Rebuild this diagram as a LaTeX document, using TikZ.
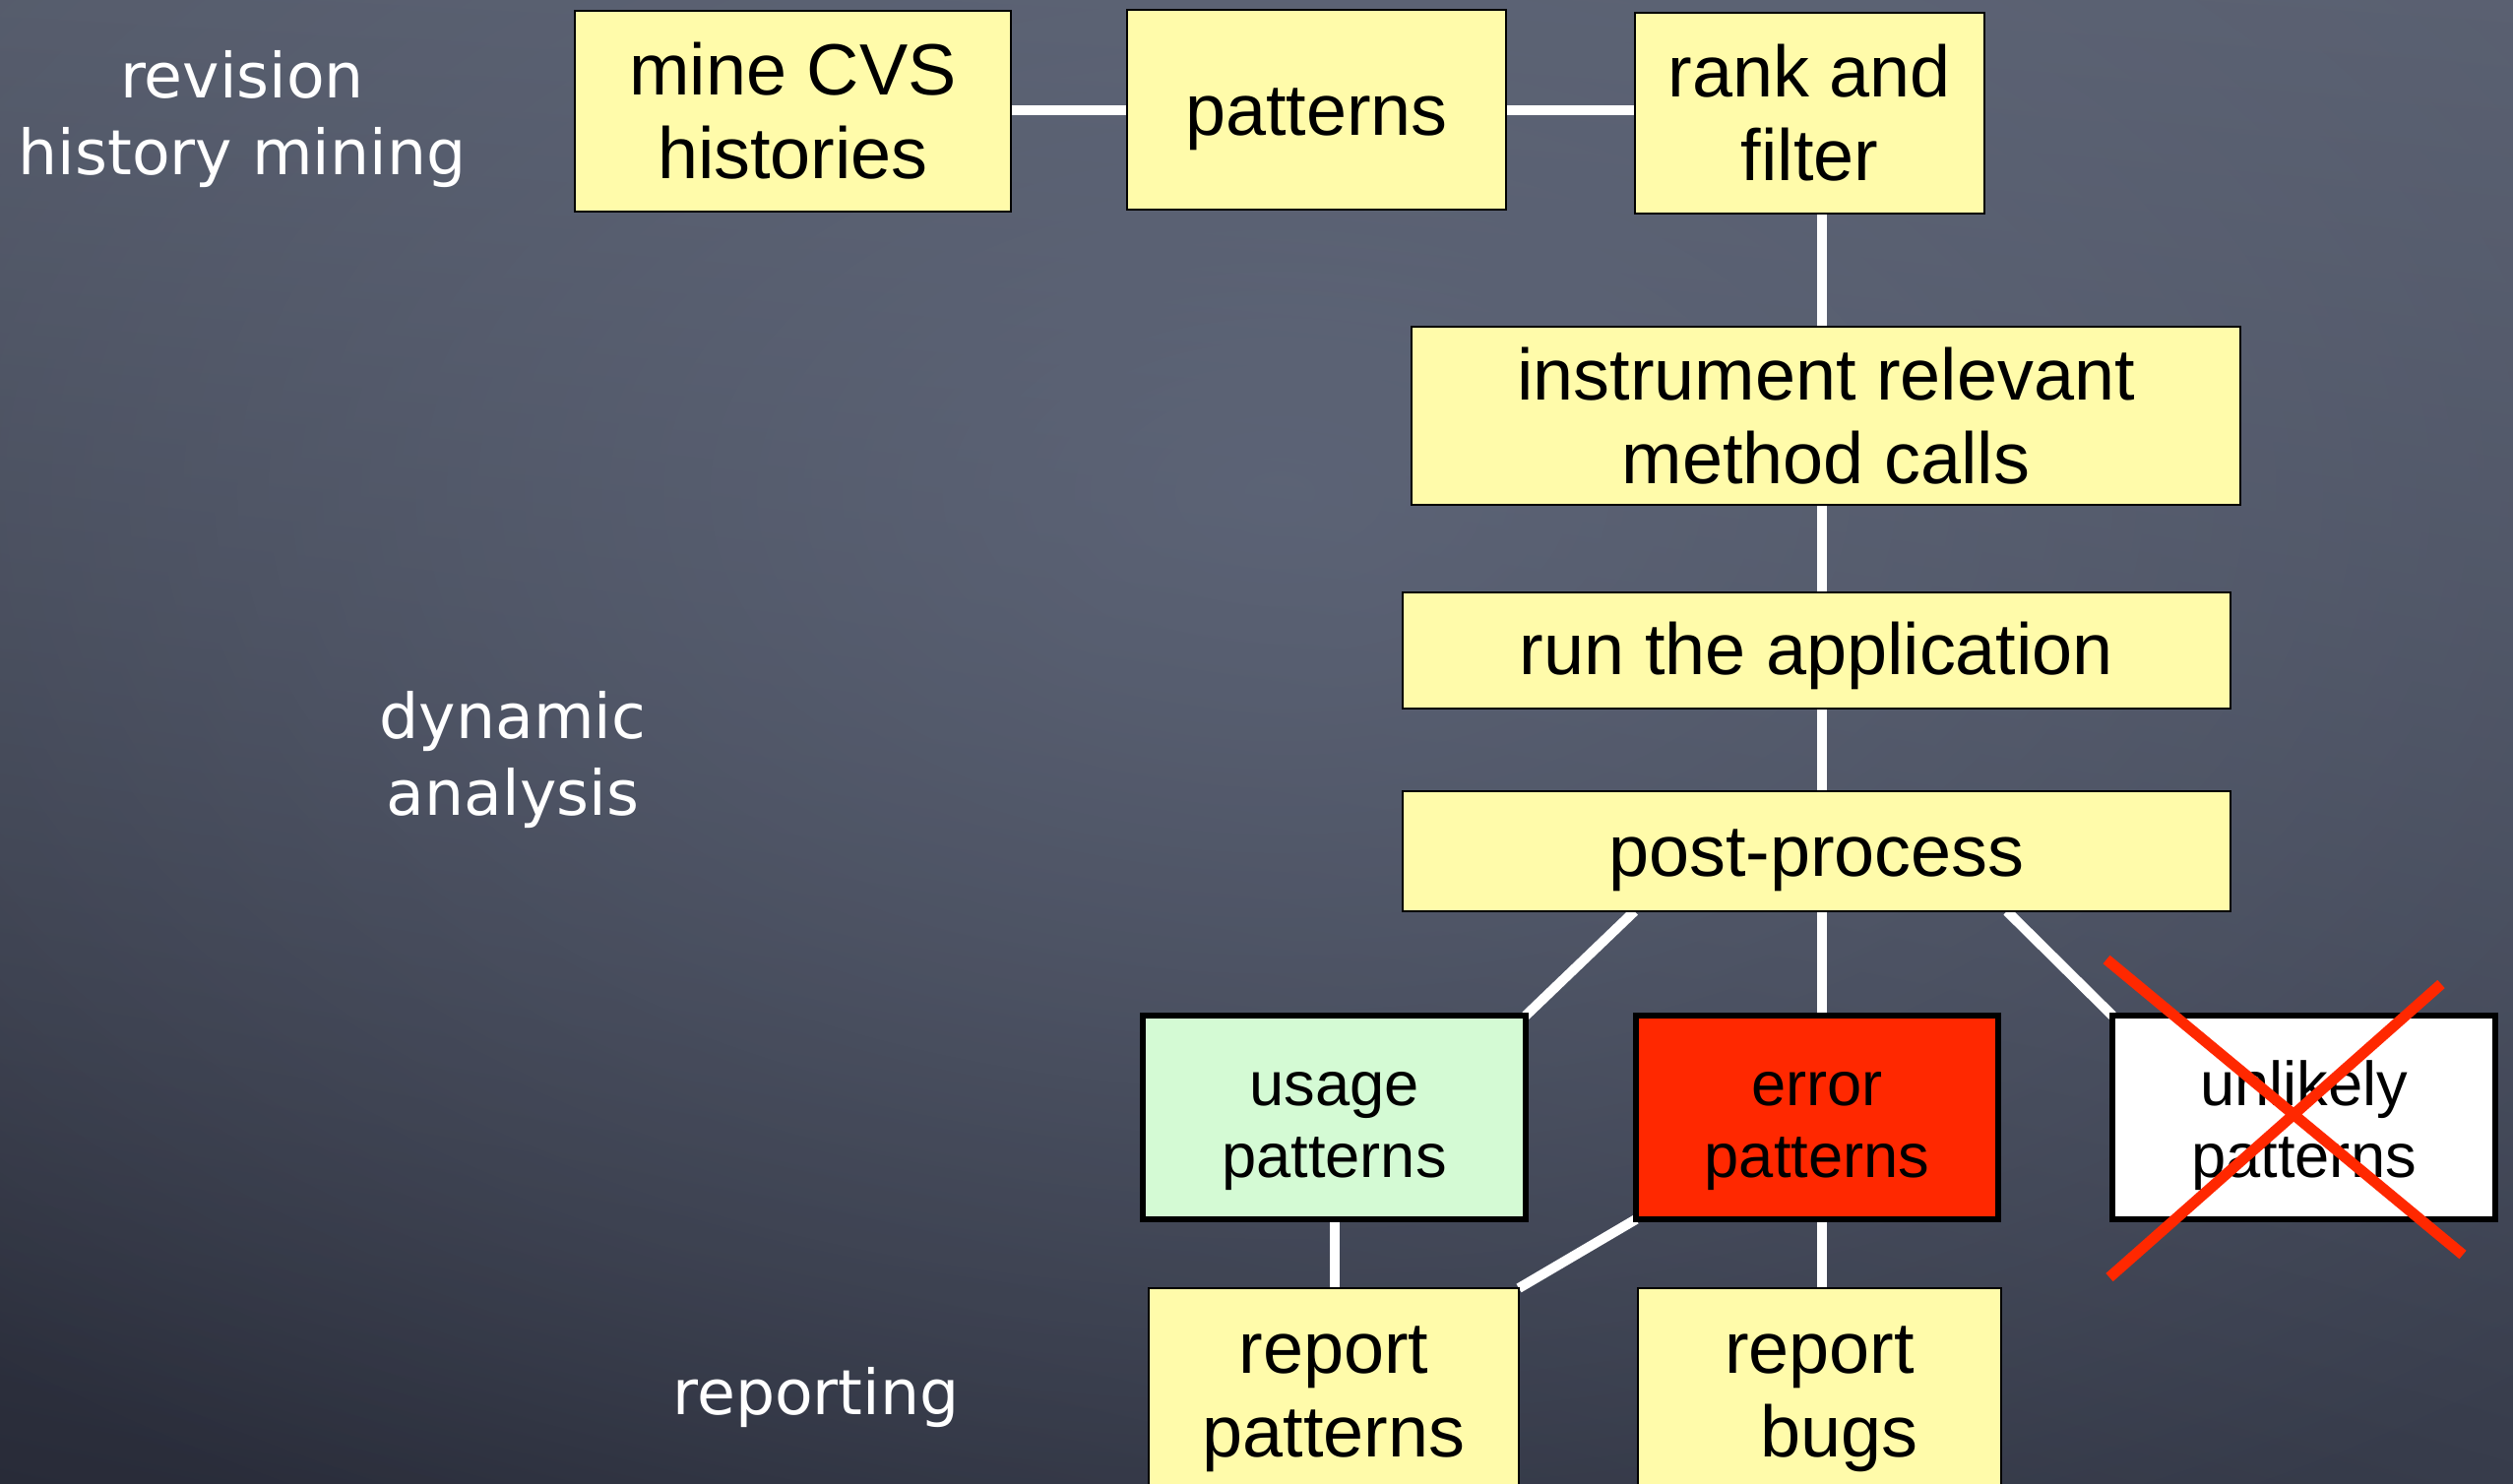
\documentclass[tikz,border=0pt]{standalone}
\usepackage{fontspec}
\setmainfont{Liberation Sans}
\newfontfamily\labelfont{DejaVu Sans}
\usetikzlibrary{calc,shadings,fadings}
\pgfdeclarelayer{board}
\pgfdeclarelayer{wires}
\pgfsetlayers{board,wires,main}
\definecolor{boardUL}{RGB}{84,90,105}
\definecolor{boardUR}{RGB}{88,94,110}
\definecolor{boardLL}{RGB}{40,43,56}
\definecolor{boardLR}{RGB}{55,60,75}
\definecolor{boardglow}{RGB}{100,108,128}
\definecolor{notefill}{RGB}{255,251,170}
\definecolor{usagefill}{RGB}{212,250,212}
\definecolor{errorfill}{RGB}{255,40,0}
\definecolor{crossred}{RGB}{255,40,0}
\tikzfading[name=softglow, inner color=transparent!0, outer color=transparent!100]
\tikzset{
  stage/.style={draw=black, line width=0.7pt, fill=notefill, inner sep=0pt,
    outer sep=0pt, align=center, text=black,
    font=\fontsize{21}{24.2}\selectfont},
  outcome/.style={draw=black, line width=1.85pt, inner sep=0pt, outer sep=0pt,
    text=black, minimum height=2.07cm,
    font=\fontsize{18}{20.8}\selectfont},
  wire/.style={white, line width=0.1cm},
  phase/.style={text=white, align=center, inner sep=0pt,
    font=\labelfont\fontsize{18}{22}\selectfont},
  cross/.style={crossred, line width=0.11cm}
}
% one line whose baseline sits #1 below the centre of its box
\newcommand{\oneline}[2]{\raisebox{-#1}[0pt][0pt]{#2}}
% two centred lines, the second one's baseline #1 below the centre of the box
\newcommand{\twolines}[3]{\raisebox{-#1}[0pt][0pt]{\begin{tabular}[b]{@{}c@{}}#2\\#3\end{tabular}}}
\begin{document}
\begin{tikzpicture}
\useasboundingbox (0,0) rectangle (25.53,-15.08);
\clip (0,0) rectangle (25.53,-15.08);

% chalkboard
\begin{pgfonlayer}{board}
  \shade[upper left=boardUL, upper right=boardUR, lower left=boardLL, lower right=boardLR]
    (0,0) rectangle (25.53,-15.08);
  \fill[boardglow, path fading=softglow, fill opacity=0.7]
    (13,-5) ellipse (20 and 12);
\end{pgfonlayer}

% phase labels
\node[phase] (lrev) at (2.46,-1.21) {revision\\history mining};
\node[phase] (ldyn) at (5.21,-7.72) {dynamic\\analysis};
\node[phase] (lrep) at (8.29,-14.20) {reporting};

% mining stage
\node[stage, minimum width=4.43cm, minimum height=2.04cm] (mine) at (8.055,-1.13) {mine CVS\\histories};
\node[stage, minimum width=3.85cm, minimum height=2.03cm] (pat) at (13.375,-1.115) {\oneline{7.45pt}{patterns}};
\node[stage, minimum width=3.55cm, minimum height=2.04cm] (rank) at (18.385,-1.15) {rank and\\filter};
\coordinate (row) at (0,-1.12);

% dynamic analysis
\node[stage, minimum width=8.42cm, minimum height=1.81cm] (inst) at (18.55,-4.225) {instrument relevant\\method calls};
\node[stage, minimum width=8.41cm, minimum height=1.18cm] (run) at (18.455,-6.61) {\oneline{6.85pt}{run the application}};
\node[stage, minimum width=8.41cm, minimum height=1.22cm] (post) at (18.455,-8.65) {\oneline{7.3pt}{post-process}};

% outcomes
\node[outcome, fill=usagefill, minimum width=3.89cm] (usage) at (13.555,-11.355) {\twolines{17.4pt}{usage}{patterns}};
\node[outcome, fill=errorfill, minimum width=3.68cm] (err) at (18.46,-11.355) {\twolines{17.4pt}{error}{patterns}};
\node[outcome, fill=white, minimum width=3.89cm] (unl) at (23.405,-11.355) {\twolines{17.4pt}{unlikely}{patterns}};

% reporting
\node[stage, minimum width=3.76cm, minimum height=2.25cm] (rp) at (13.55,-14.215) {report\\patterns};
\node[stage, minimum width=3.69cm, minimum height=2.25cm] (rb) at (18.485,-14.215) {report\\\hspace*{0.4cm}bugs};

% vertical spine of the flow
\coordinate (spine) at (18.51,0);

\begin{pgfonlayer}{wires}
  \draw[wire] (mine.east |- row) -- (pat.west |- row);
  \draw[wire] (pat.east |- row) -- (rank.west |- row);
  \draw[wire] (rank.south -| spine) -- (inst.north -| spine);
  \draw[wire] (inst.south -| spine) -- (run.north -| spine);
  \draw[wire] (run.south -| spine) -- (post.north -| spine);
  \draw[wire] ($(post.south west)!0.28!(post.south east)$) -- (usage.north east);
  \draw[wire] (post.south -| spine) -- (err.north -| spine);
  \draw[wire] ($(post.south west)!0.73!(post.south east)$) -- (unl.north west);
  \draw[wire] (usage.south) -- (rp.north -| usage.south);
  \draw[wire] (err.south west) -- (rp.north east);
  \draw[wire] (err.south -| spine) -- (rb.north -| spine);
\end{pgfonlayer}

% crossed-out outcome
\draw[cross] (21.40,-9.75) -- (25.02,-12.75);
\draw[cross] (24.80,-10.00) -- (21.43,-12.98);
\end{tikzpicture}
\end{document}
